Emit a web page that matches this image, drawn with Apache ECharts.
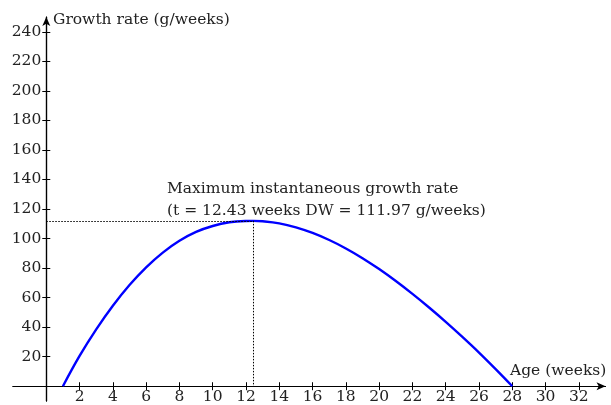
<!DOCTYPE html>
<html>
<head>
<meta charset="utf-8">
<script src="https://cdn.jsdelivr.net/npm/echarts@6/dist/echarts.min.js"></script>
<style>
  html, body { margin: 0; padding: 0; background: #fff; }
  #chart { width: 611px; height: 405px; }
</style>
</head>
<body>
<div id="chart"></div>
<script>
// Growth rate curve (g/weeks) against age (weeks)
const ageWeeks = [1, 2, 3, 4, 5, 6, 7, 8, 9, 10, 11, 12, 12.43, 13, 14, 15, 16, 17, 18, 19, 20, 21, 22, 23, 24, 25, 26, 27, 28];
const growthRate = [0, 20.5, 38.5, 54.5, 68.5, 80.5, 90.5, 98.5, 104.5, 108.5, 111, 111.9, 111.97, 111.7, 110.3, 107.6, 103.8, 99, 93.3, 86.7, 79.3, 71.2, 62.5, 53.3, 43.6, 33.4, 22.8, 11.6, 0];

// Maximum instantaneous growth rate
const peakAge = 12.43;
const peakRate = 111.97;

// Tick labels
const xTicks = [2, 4, 6, 8, 10, 12, 14, 16, 18, 20, 22, 24, 26, 28, 30, 32];
const yTicks = [20, 40, 60, 80, 100, 120, 140, 160, 180, 200, 220, 240];

const xName = 'Age (weeks)';
const yName = 'Growth rate (g/weeks)';
const noteLine1 = 'Maximum instantaneous growth rate';
const noteLine2 = '(t = ' + peakAge.toFixed(2) + ' weeks DW = ' + peakRate.toFixed(2) + ' g/weeks)';

const FONT = 'DejaVu Serif';
const FONT_SIZE = 15.5;
const INK = '#222';

const W = 611, H = 405;
const gridBox = { left: 13, right: 5.5, top: 17, bottom: 4, containLabel: false, outerBoundsMode: 'none' };
const xRange = { min: -2, max: 33.6 };
const yRange = { min: -10, max: 250 };

// The axes cross at the origin: shift them inward from the grid edges.
const plotW = W - gridBox.left - gridBox.right;
const plotH = H - gridBox.top - gridBox.bottom;
const yAxisShift = -(0 - xRange.min) / (xRange.max - xRange.min) * plotW;
const xAxisShift = -(0 - yRange.min) / (yRange.max - yRange.min) * plotH;

// Two overlaid grids: one carries outward ticks and labels, the other inward ticks,
// so each tick mark crosses its axis line.
function xAxisDef(gridIndex, inside) {
  return {
    type: 'value', gridIndex, min: xRange.min, max: xRange.max,
    position: 'bottom', offset: xAxisShift,
    axisLine: {
      show: true, onZero: false,
      symbol: inside ? 'none' : ['none', 'arrow'], symbolSize: [6, 9],
      lineStyle: { color: '#000', width: 1.2 }
    },
    axisTick: { show: true, inside, length: 4, customValues: xTicks, lineStyle: { color: '#000', width: 1 } },
    axisLabel: {
      show: !inside, customValues: xTicks, margin: 3,
      color: INK, fontFamily: FONT, fontSize: FONT_SIZE
    },
    splitLine: { show: false }
  };
}

function yAxisDef(gridIndex, inside) {
  return {
    type: 'value', gridIndex, min: yRange.min, max: yRange.max,
    position: 'left', offset: yAxisShift,
    axisLine: {
      show: true, onZero: false,
      symbol: inside ? 'none' : ['none', 'arrow'], symbolSize: [6, 9],
      lineStyle: { color: '#000', width: 1.2 }
    },
    axisTick: { show: true, inside, length: 4, customValues: yTicks, lineStyle: { color: '#000', width: 1 } },
    axisLabel: {
      show: !inside, customValues: yTicks, margin: 5,
      color: INK, fontFamily: FONT, fontSize: FONT_SIZE
    },
    splitLine: { show: false }
  };
}

const chart = echarts.init(document.getElementById('chart'), null, { renderer: 'canvas' });
const textFont = FONT_SIZE + 'px "' + FONT + '"';

chart.setOption({
  backgroundColor: '#fff',
  animation: false,
  grid: [Object.assign({}, gridBox), Object.assign({}, gridBox)],
  xAxis: [xAxisDef(0, false), xAxisDef(1, true)],
  yAxis: [yAxisDef(0, false), yAxisDef(1, true)],
  series: [
    {
      type: 'line',
      xAxisIndex: 0, yAxisIndex: 0,
      data: ageWeeks.map((t, i) => [t, growthRate[i]]),
      smooth: 0.4,
      showSymbol: false,
      lineStyle: { color: '#0000ff', width: 2.4 },
      markLine: {
        silent: true,
        symbol: 'none',
        label: { show: false },
        lineStyle: { color: '#000', type: [1.5, 1.5], width: 1 },
        data: [
          [{ coord: [0, peakRate] }, { coord: [peakAge, peakRate] }],
          [{ coord: [peakAge, peakRate] }, { coord: [peakAge, 0] }]
        ]
      },
      z: 3
    },
    { type: 'line', xAxisIndex: 1, yAxisIndex: 1, data: [] }
  ],
  graphic: [
    { type: 'text', left: 53, top: 12, style: { text: yName, fill: INK, font: textFont } },
    { type: 'text', left: 510, top: 363, style: { text: xName, fill: INK, font: textFont } },
    { type: 'text', left: 167, top: 181, style: { text: noteLine1, fill: INK, font: textFont } },
    { type: 'text', left: 167, top: 203, style: { text: noteLine2, fill: INK, font: textFont } }
  ]
});
</script>
</body>
</html>
